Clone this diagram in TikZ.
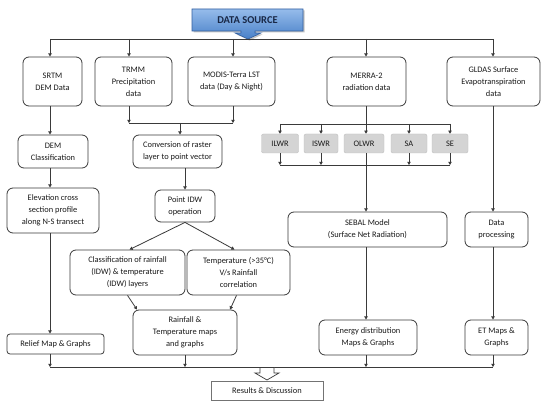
\documentclass[tikz,border=0pt]{standalone}
\usepackage{fontspec}
\setmainfont{Carlito}
\usetikzlibrary{arrows.meta,shadows}
\definecolor{lineC}{HTML}{3A3A3A}
\definecolor{txtC}{HTML}{1A1A1A}
\definecolor{dsTop}{RGB}{150,188,235}
\definecolor{dsBot}{RGB}{72,128,200}
\definecolor{dsLine}{RGB}{50,95,160}
\begin{document}
\begin{tikzpicture}[x=1pt,y=-1pt,
  box/.style={draw=lineC, line width=0.8pt, rounded corners=6pt, align=center, inner sep=1pt,
    text=txtC, font=\fontsize{8.4}{12}\selectfont},
  sz/.style 2 args={minimum width=#1pt, minimum height=#2pt},
  gbox/.style={draw=black!25, fill=black!17, rounded corners=2pt, align=center, inner sep=1pt,
    text=txtC, font=\fontsize{8.4}{10}\selectfont, minimum height=19pt},
  conn/.style={draw=lineC, line width=0.8pt},
  arr/.style={conn, -{Triangle[length=3.2pt,width=3.4pt]}}
]
\useasboundingbox (0,0) rectangle (550,406);
\fill[white] (0,0) rectangle (550,406);

% column coordinates
\coordinate (xa) at (50,0);
\coordinate (xb) at (129,0);
\coordinate (xc) at (233,0);
\coordinate (xm) at (180,0);
\coordinate (xd) at (366,0);
\coordinate (xe) at (493,0);
\coordinate (j1) at (0,123);
\coordinate (g1) at (0,124);
\coordinate (g2) at (0,165);
\coordinate (bl) at (0,367);

% DATA SOURCE callout
\path[drop shadow={opacity=0.45, shadow xshift=1.5pt, shadow yshift=-1.5pt},
  top color=dsTop, bottom color=dsBot, draw=dsLine, line width=0.6pt]
  (192,9) -- (303,9) -- (303,31) -- (255,31) -- (255,33) -- (261,33) -- (248,39)
  -- (235,33) -- (241,33) -- (241,31) -- (192,31) -- cycle;
\node[font=\fontsize{10.5}{12}\selectfont\bfseries, text={rgb,255:red,25;green,40;blue,70}] (ds) at (247.5,20) {DATA SOURCE};
\coordinate (dstip) at (248,39);

% first row
\node[box, sz={59}{49}] (srtm) at (52.5,81.5) {SRTM\\DEM Data};
\node[box, sz={77}{49}] (trmm) at (133.5,81.5) {TRMM\\Precipitation\\data};
\node[box, sz={87}{49}] (modis) at (231.5,81.5) {MODIS-Terra LST\\data (Day \& Night)};
\node[box, sz={79}{49}] (merra) at (366.5,81.5) {MERRA-2\\radiation data};
\node[box, sz={93}{49}] (gldas) at (493.5,81.5) {GLDAS Surface\\Evapotranspiration\\data};

% left column
\node[box, sz={70}{33}] (dem) at (53,151.5) {DEM\\Classification};
\node[box, sz={92}{45}] (elev) at (53,210.5) {Elevation cross\\section profile\\along N-S transect};
\node[box, sz={97}{20}, rounded corners=3pt] (relief) at (55.5,344) {Relief Map \& Graphs};

% middle column
\node[box, sz={89}{33}] (conv) at (177.5,151.5) {Conversion of raster\\layer to point vector};
\node[box, sz={60}{32}] (idw) at (185,206) {Point IDW\\operation};
\node[box, sz={115}{45}] (cls) at (127.5,272.5) {Classification of rainfall\\(IDW) \& temperature\\(IDW) layers};
\node[box, sz={103}{45}] (temp) at (238.5,272.5) {Temperature (>35°C)\\V/s Rainfall\\correlation};
\node[box, sz={104}{45}] (rtm) at (185,332.5) {Rainfall \&\\Temperature maps\\and graphs};

% grey boxes
\node[gbox, minimum width=37pt] (ilwr) at (280,143.5) {ILWR};
\node[gbox, minimum width=34pt] (iswr) at (321,143.5) {ISWR};
\node[gbox, minimum width=40pt] (olwr) at (364,143.5) {OLWR};
\node[gbox, minimum width=36pt] (sa) at (409,143.5) {SA};
\node[gbox, minimum width=36pt] (se) at (450,143.5) {SE};

% right columns
\node[box, sz={159}{35}] (sebal) at (367.5,229.5) {SEBAL Model\\(Surface Net Radiation)};
\node[box, sz={63}{35}] (dproc) at (496.5,229.5) {Data\\processing};
\node[box, sz={98}{35}] (energy) at (368,337.5) {Energy distribution\\Maps \& Graphs};
\node[box, sz={63}{35}] (et) at (496.5,337.5) {ET Maps \&\\Graphs};

% results
\node[box, sz={112}{19}, rounded corners=0pt, draw=black!55,
  drop shadow={opacity=0.25, shadow xshift=1pt, shadow yshift=-1pt}, fill=white] (res) at (267,390.5) {Results \& Discussion};

% top distribution
\draw[conn] (xa |- dstip) -- (xe |- dstip);
\draw[arr] (xa |- dstip) -- (srtm.north -| xa);
\draw[arr] (xb |- dstip) -- (trmm.north -| xb);
\draw[arr] (xc |- dstip) -- (modis.north -| xc);
\draw[arr] (xd |- dstip) -- (merra.north -| xd);
\draw[arr] (xe |- dstip) -- (gldas.north -| xe);

% left column
\draw[arr] (srtm.south -| xa) -- (dem.north -| xa);
\draw[arr] (dem.south -| xa) -- (elev.north -| xa);
\draw[arr] (elev.south -| xa) -- (relief.north -| xa);

% middle
\draw[arr] (trmm.south -| xb) -- (xb |- j1);
\draw[arr] (modis.south -| xc) -- (xc |- j1);
\draw[conn] (xb |- j1) -- (xc |- j1);
\draw[arr] (xm |- j1) -- (conv.north -| xm);
\draw[arr] (conv.south -| idw) -- (idw.north);
\draw[arr] (idw.south) -- ([xshift=2pt]cls.north);
\draw[arr] (idw.south) -- ([xshift=-4pt]temp.north);
\draw[arr] (cls.south) -- ([xshift=-48pt]rtm.north);
\draw[arr] ([xshift=-2pt]temp.south) -- ([xshift=45pt]rtm.north);

% MERRA distribution
\draw[conn] (merra.south -| xd) -- (xd |- g1);
\draw[conn] (ilwr.north |- g1) -- (se.north |- g1);
\draw[arr] (ilwr.north |- g1) -- (ilwr.north);
\draw[arr] (iswr.north |- g1) -- (iswr.north);
\draw[arr] (xd |- g1) -- (olwr.north -| xd);
\draw[arr] (sa.north |- g1) -- (sa.north);
\draw[arr] (se.north |- g1) -- (se.north);
\draw[arr] (ilwr.south) -- (ilwr.south |- g2);
\draw[arr] (iswr.south) -- (iswr.south |- g2);
\draw[arr] (sa.south) -- (sa.south |- g2);
\draw[arr] (se.south) -- (se.south |- g2);
\draw[conn] (ilwr.south |- g2) -- (se.south |- g2);
\draw[arr] (olwr.south -| xd) -- (sebal.north -| xd);
\draw[arr] (sebal.south -| xd) -- (energy.north -| xd);

% GLDAS column
\draw[arr] (gldas.south -| xe) -- (dproc.north -| xe);
\draw[arr] (dproc.south -| xe) -- (et.north -| xe);

% bottom collection
\draw[arr] (relief.south -| xa) -- (xa |- bl);
\draw[arr] (rtm.south) -- (rtm.south |- bl);
\draw[arr] (energy.south -| xd) -- (xd |- bl);
\draw[arr] (et.south -| xe) -- (xe |- bl);
\draw[conn] (xa |- bl) -- (xe |- bl);

% hollow block arrow
\draw[draw=lineC, line width=0.7pt, fill=white]
  (260,367.5) -- (274,367.5) -- (274,373) -- (279,373) -- (267,380) -- (255,373) -- (260,373) -- cycle;
\end{tikzpicture}
\end{document}
